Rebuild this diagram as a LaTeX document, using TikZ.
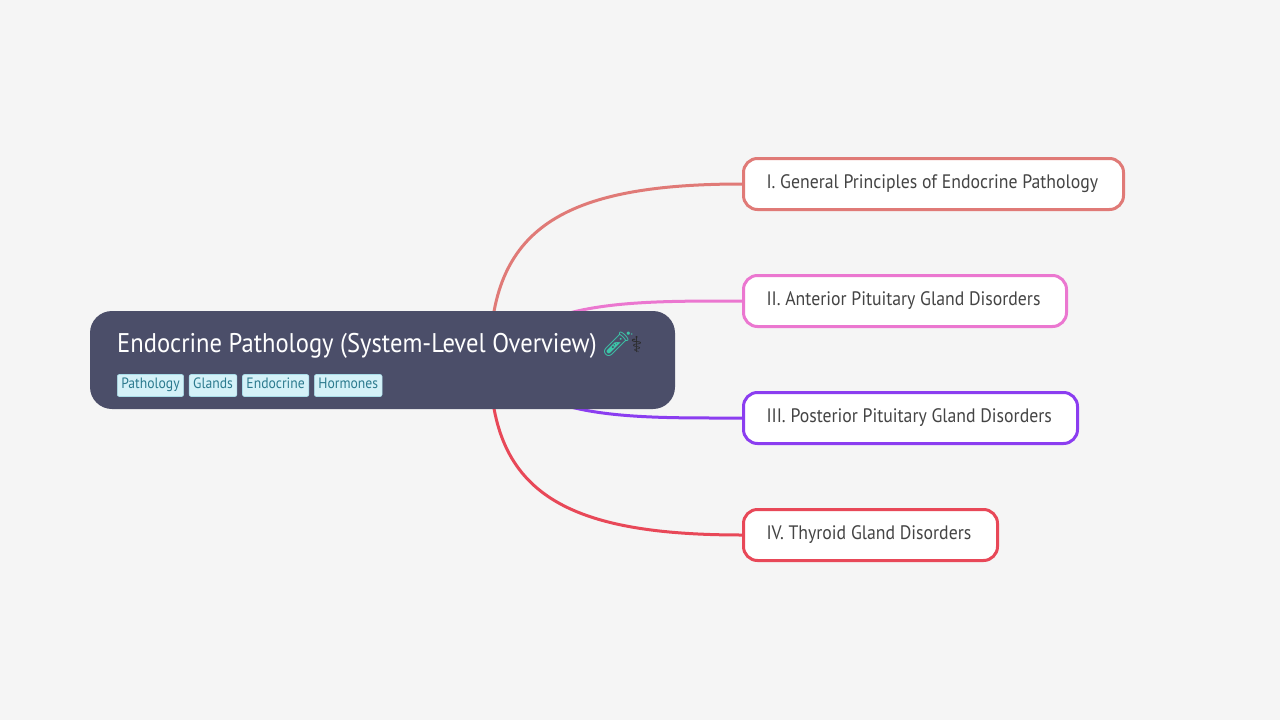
\documentclass[tikz,border=0pt]{standalone}
\usepackage{fontspec}
\setmainfont{PT Sans}[FakeStretch=0.91]
\newfontfamily\emojifont{Noto Emoji}
\newfontfamily\djv{DejaVu Sans}
\usetikzlibrary{positioning}
\definecolor{bg}{HTML}{F5F5F5}
\definecolor{rootfill}{HTML}{4B4E69}
\definecolor{cOne}{HTML}{E07A77}
\definecolor{cTwo}{HTML}{EB77D0}
\definecolor{cThree}{HTML}{8B3DF0}
\definecolor{cFour}{HTML}{E84858}
\definecolor{txt}{HTML}{444444}
\definecolor{tagfill}{HTML}{D4F1F8}
\definecolor{tagtext}{HTML}{2C7A8E}
\definecolor{tagline}{HTML}{A8DDE9}
\definecolor{tube}{HTML}{3CC5A8}
\definecolor{staff}{HTML}{2A2A2A}
\tikzset{
  branch/.style={draw=#1, line width=3pt, fill=white, rounded corners=14pt,
    minimum height=51pt, inner xsep=23pt, inner ysep=0pt, anchor=west,
    font=\fontsize{19.5}{22}\selectfont, text=txt},
  link/.style={draw=#1, line width=3pt},
  tagbox/.style={fill=tagfill, draw=tagline, line width=0.6pt, rounded corners=2pt,
    inner xsep=4pt, inner ysep=0pt, minimum height=22pt, text height=10pt, text depth=4pt,
    text=tagtext, font=\fontsize{15}{17}\selectfont, anchor=west}
}
\begin{document}
\begin{tikzpicture}[x=1pt,y=-1pt]
\fill[bg] (0,0) rectangle (1280,720);
\useasboundingbox (0,0) rectangle (1280,720);

% branch nodes
\node[branch=cOne] (n1) at (742,184) {\makebox[334pt][l]{I. General Principles of Endocrine Pathology}};
\node[branch=cTwo] (n2) at (742,301) {\makebox[277pt][l]{II. Anterior Pituitary Gland Disorders}};
\node[branch=cThree] (n3) at (742,418) {\makebox[288pt][l]{III. Posterior Pituitary Gland Disorders}};
\node[branch=cFour] (n4) at (742,535) {\makebox[208pt][l]{IV. Thyroid Gland Disorders}};

% connectors
\coordinate (hub) at (490,360);
\draw[link=cOne] (hub) .. controls (490,230) and (560,184) .. (n1.west);
\draw[link=cTwo] (hub) .. controls (540,300) and (630,301) .. (n2.west);
\draw[link=cThree] (hub) .. controls (540,420) and (630,418) .. (n3.west);
\draw[link=cFour] (hub) .. controls (490,490) and (560,535) .. (n4.west);

% root
\node[fill=rootfill, rounded corners=22pt, minimum width=585pt, minimum height=98pt, inner sep=0pt] (root) at (382.5,360) {};
\node[anchor=base west, text=white, inner sep=0pt, font=\fontsize{27}{30}\selectfont] (title) at (117,352)
  {Endocrine Pathology (System-Level Overview) {\emojifont\fontsize{24}{26}\selectfont\color{tube}🧪}\hspace{-3pt}{\djv\fontsize{22}{24}\selectfont\color{staff}⚕}};
\node[tagbox] (t1) at (117,385.5) {Pathology};
\node[tagbox, right=5pt of t1] (t2) {Glands};
\node[tagbox, right=5pt of t2] (t3) {Endocrine};
\node[tagbox, right=5pt of t3] (t4) {Hormones};
\end{tikzpicture}
\end{document}
